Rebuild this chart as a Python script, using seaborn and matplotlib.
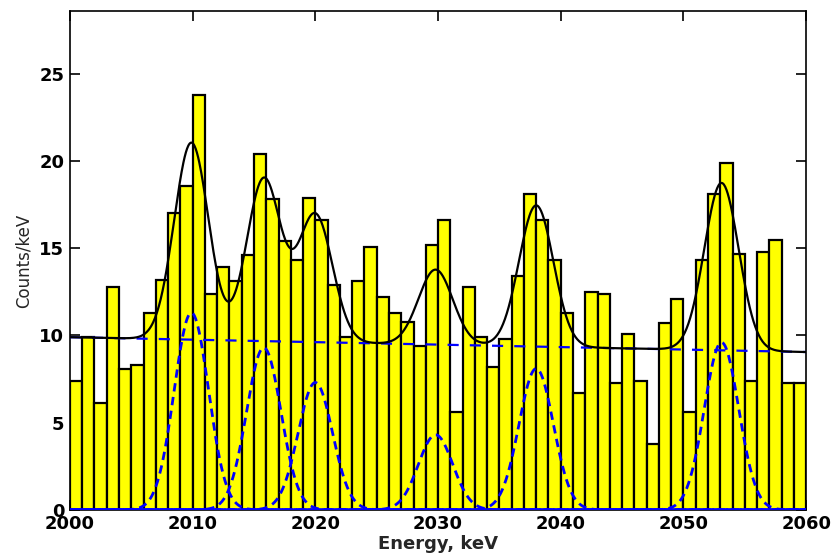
import numpy as np
import pandas as pd
import matplotlib
matplotlib.use("Agg")
import matplotlib.pyplot as plt
import seaborn as sns

# Spectrum: counts per 1 keV bin (left bin edges 2000 ... 2059)
bin_left = list(range(2000, 2060))
counts = [7.4, 9.9, 6.1, 12.8, 8.1, 8.3, 11.3, 13.2, 17.0, 18.6,
          23.8, 12.4, 13.9, 13.1, 14.6, 20.4, 17.8, 15.4, 14.3, 17.9,
          16.6, 12.9, 9.9, 13.1, 15.1, 12.2, 11.3, 10.8, 9.4, 15.2,
          16.6, 5.6, 12.8, 9.9, 8.2, 9.8, 13.4, 18.1, 16.6, 14.3,
          11.3, 6.7, 12.5, 12.4, 7.3, 10.1, 7.4, 3.8, 10.7, 12.1,
          5.6, 14.3, 18.1, 19.9, 14.7, 7.4, 14.8, 15.5, 7.3, 7.3]

# Fit model: linear background + Gaussian lines
bg_start = 9.9      # background at 2000 keV
bg_end = 9.05       # background at 2060 keV
peak_centers = [2009.9, 2015.8, 2020.0, 2029.8, 2038.0, 2053.1]
peak_amps = [11.3, 9.3, 7.3, 4.3, 8.1, 9.6]
peak_sigma = 1.4

x_ticks = [2000, 2010, 2020, 2030, 2040, 2050, 2060]
y_ticks = [0, 5, 10, 15, 20, 25]

sns.set_style("ticks")
plt.rcParams["font.family"] = ["DejaVu Sans"]

fig = plt.figure(figsize=(8.32, 5.59), dpi=100)
ax = fig.add_axes([0.084, 0.088, 0.885, 0.892])

hist_df = pd.DataFrame({"energy": np.array(bin_left, dtype=float) + 0.5,
                        "counts": counts})
sns.histplot(data=hist_df, x="energy", weights="counts",
             binwidth=1, binrange=(2000, 2060), color="#FFFF00", alpha=1.0,
             edgecolor="black", linewidth=1.6, ax=ax, zorder=1)

e = np.linspace(2000, 2060, 1201)
background = bg_start + (bg_end - bg_start) * (e - 2000) / 60.0
gauss = [a * np.exp(-0.5 * ((e - c) / peak_sigma) ** 2)
         for c, a in zip(peak_centers, peak_amps)]
total = background + np.sum(gauss, axis=0)

# individual peak components, dashed (staggered dash phase per component)
for i, g in enumerate(gauss):
    sns.lineplot(x=e, y=g, color="#0000FF", linewidth=2.0, ax=ax,
                 linestyle=(i * 0.9, (3, 2)), zorder=3)
sns.lineplot(x=e, y=background, color="#0000FF", linewidth=1.6, ax=ax,
             linestyle=(0, (5, 5)), zorder=3)
sns.lineplot(x=e, y=total, color="black", linewidth=1.6, ax=ax, zorder=4)

ax.set_xlim(2000, 2060)
ax.set_ylim(0, 28.6)
ax.set_xticks(x_ticks)
ax.set_yticks(y_ticks)
ax.tick_params(direction="in", length=7, width=1.2, top=True, right=True,
               labelsize=13, pad=4, colors="black")
for lab in ax.get_xticklabels() + ax.get_yticklabels():
    lab.set_fontweight("bold")
for sp in ax.spines.values():
    sp.set_visible(True)
    sp.set_linewidth(1.2)
    sp.set_color("black")

ax.set_xlabel("Energy, keV", fontsize=13, fontweight="bold", labelpad=1)
ax.set_ylabel("Counts/keV", fontsize=12, labelpad=5)

fig.savefig("out.png", dpi=100)
